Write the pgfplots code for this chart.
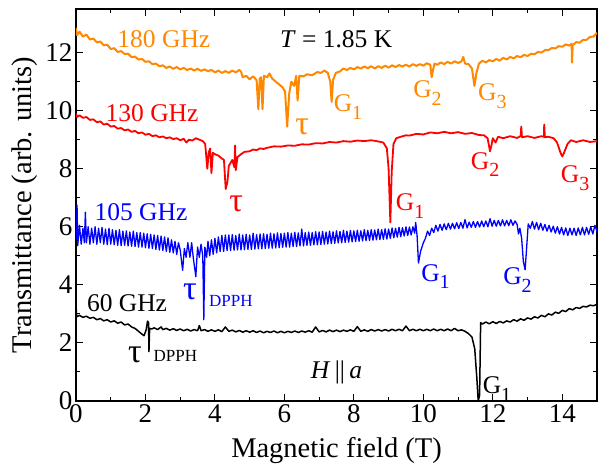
\documentclass[border=0pt]{standalone}
\usepackage{fontspec}
\setmainfont{Liberation Serif}
\usepackage{pgfplots}
\pgfplotsset{compat=1.18}
\definecolor{corange}{RGB}{255,136,0}
\definecolor{cred}{RGB}{255,0,0}
\definecolor{cblue}{RGB}{0,0,255}
\newcommand{\sub}[1]{\raisebox{-0.3em}{\fontsize{20}{20}\selectfont #1}}
\newcommand{\ann}{\fontsize{25.5}{27}\selectfont}
\newcommand{\tauf}{\fontsize{34}{34}\selectfont}
\newcommand{\dpph}{\fontsize{17}{18}\selectfont}
\begin{document}
\begin{tikzpicture}
\begin{axis}[
  scale only axis,
  width=521pt, height=392pt,
  xmin=0, xmax=15, ymin=0, ymax=13.5,
  xtick={0,2,...,14}, ytick={0,2,...,12},
  minor x tick num=1, minor y tick num=1,
  tick align=inside,
  major tick length=7pt, minor tick length=4pt,
  axis line style={line width=1.1pt},
  every tick/.style={line width=1pt, black},
  /pgf/number format/assume math mode=true,
  tick label style={font=\rmfamily\fontsize{27}{29}\selectfont},
  xlabel={Magnetic field (T)},
  ylabel={Transmittance (arb. units)},
  label style={font=\rmfamily\fontsize{28.5}{30}\selectfont},
  xlabel style={at={(axis description cs:0.5,-0.127)}, anchor=center},
  ylabel style={at={(axis description cs:-0.098,0.5)}, anchor=center},
  clip=true,
  every axis plot/.append style={line width=1.6pt, line join=round},
]
% 180 GHz
\addplot[corange, line width=2pt] coordinates {
(0.00,12.85)(0.03,12.60)(0.10,12.72)(0.20,12.55)(0.30,12.62)(0.40,12.45)(0.50,12.48)(0.60,12.35)(0.70,12.38)(0.80,12.25)(0.90,12.27)(1.00,12.12)(1.10,12.15)(1.20,12.02)(1.30,12.05)(1.40,11.95)(1.50,11.96)(1.60,11.84)(1.70,11.86)(1.80,11.76)(1.90,11.78)(2.00,11.68)(2.10,11.70)(2.20,11.60)(2.30,11.62)(2.40,11.53)(2.50,11.56)(2.60,11.47)(2.70,11.52)(2.80,11.44)(2.90,11.50)(3.00,11.42)(3.10,11.47)(3.20,11.40)(3.30,11.45)(3.40,11.38)(3.50,11.44)(3.60,11.37)(3.70,11.42)(3.80,11.36)(3.90,11.40)(4.00,11.32)(4.10,11.38)(4.20,11.30)(4.30,11.36)(4.40,11.30)(4.50,11.38)(4.60,11.32)(4.70,11.40)(4.75,11.35)(4.80,11.15)(4.90,11.20)(5.00,11.08)(5.10,11.18)(5.20,11.05)(5.25,10.05)(5.29,11.10)(5.33,11.15)(5.37,10.05)(5.41,11.20)(5.50,11.15)(5.57,11.28)(5.65,11.10)(5.75,11.00)(5.85,10.90)(5.95,10.80)(6.02,10.65)(6.08,9.45)(6.14,10.60)(6.20,11.00)(6.28,10.85)(6.34,11.20)(6.38,10.35)(6.43,11.20)(6.55,11.18)(6.65,11.25)(6.80,11.22)(6.95,11.33)(7.05,11.30)(7.15,11.38)(7.25,11.30)(7.32,11.00)(7.36,10.30)(7.40,11.05)(7.48,11.30)(7.60,11.35)(7.70,11.45)(7.80,11.40)(7.90,11.47)(8.00,11.42)(8.10,11.50)(8.20,11.45)(8.30,11.52)(8.40,11.46)(8.50,11.53)(8.60,11.45)(8.70,11.53)(8.80,11.47)(8.90,11.55)(9.00,11.48)(9.10,11.56)(9.20,11.50)(9.30,11.57)(9.40,11.52)(9.50,11.58)(9.60,11.52)(9.70,11.60)(9.80,11.54)(9.90,11.60)(10.00,11.55)(10.10,11.63)(10.20,11.58)(10.24,11.15)(10.28,11.40)(10.32,11.62)(10.40,11.58)(10.50,11.66)(10.60,11.60)(10.70,11.68)(10.80,11.62)(10.90,11.70)(11.00,11.64)(11.10,11.70)(11.15,11.85)(11.20,11.62)(11.30,11.60)(11.40,11.45)(11.47,10.85)(11.53,11.30)(11.60,11.62)(11.70,11.72)(11.80,11.66)(11.90,11.74)(12.00,11.70)(12.10,11.78)(12.20,11.72)(12.30,11.82)(12.40,11.76)(12.50,11.85)(12.60,11.80)(12.70,11.88)(12.80,11.84)(12.90,11.92)(13.00,11.88)(13.10,11.96)(13.20,11.94)(13.30,12.02)(13.40,12.00)(13.50,12.08)(13.60,12.08)(13.70,12.16)(13.80,12.14)(13.90,12.22)(14.00,12.20)(14.10,12.28)(14.20,12.24)(14.27,12.30)(14.28,11.65)(14.30,12.25)(14.40,12.36)(14.50,12.34)(14.60,12.44)(14.70,12.44)(14.80,12.54)(14.90,12.55)(15.00,12.68)
};
% 130 GHz
\addplot[cred, line width=1.8pt] coordinates {
(0.00,9.90)(0.03,9.78)(0.10,9.84)(0.20,9.75)(0.30,9.78)(0.40,9.68)(0.50,9.70)(0.60,9.60)(0.70,9.63)(0.80,9.52)(0.90,9.55)(1.00,9.45)(1.10,9.47)(1.20,9.38)(1.30,9.40)(1.40,9.32)(1.50,9.35)(1.60,9.27)(1.70,9.30)(1.80,9.22)(1.90,9.25)(2.00,9.17)(2.10,9.20)(2.20,9.12)(2.30,9.15)(2.40,9.08)(2.50,9.11)(2.60,9.05)(2.70,9.08)(2.80,9.02)(2.90,9.05)(3.00,8.98)(3.10,9.03)(3.18,8.90)(3.25,9.00)(3.35,8.97)(3.45,9.05)(3.55,9.00)(3.65,8.95)(3.72,8.85)(3.78,8.00)(3.82,8.55)(3.86,8.70)(3.90,7.85)(3.94,8.55)(4.00,8.50)(4.10,8.45)(4.20,8.35)(4.26,8.30)(4.31,7.30)(4.36,7.55)(4.40,8.10)(4.45,8.20)(4.50,8.30)(4.56,8.05)(4.58,8.80)(4.60,7.95)(4.65,8.40)(4.75,8.50)(4.85,8.58)(5.00,8.60)(5.10,8.66)(5.20,8.64)(5.30,8.70)(5.40,8.68)(5.50,8.72)(5.70,8.77)(5.90,8.76)(6.10,8.80)(6.30,8.79)(6.50,8.84)(6.70,8.83)(6.90,8.88)(7.10,8.87)(7.30,8.92)(7.50,8.90)(7.70,8.95)(7.90,8.93)(8.10,8.97)(8.30,8.95)(8.50,8.98)(8.70,8.94)(8.85,8.90)(8.95,8.70)(9.00,8.00)(9.05,6.15)(9.09,7.90)(9.14,8.85)(9.22,9.05)(9.35,9.10)(9.50,9.15)(9.60,9.14)(9.80,9.20)(10.00,9.18)(10.20,9.25)(10.40,9.22)(10.60,9.27)(10.80,9.22)(11.00,9.26)(11.20,9.20)(11.40,9.23)(11.60,9.16)(11.75,9.15)(11.85,9.05)(11.92,8.60)(11.96,8.80)(12.00,9.05)(12.08,8.90)(12.15,9.10)(12.30,9.05)(12.50,9.12)(12.70,9.06)(12.80,9.12)(12.82,9.45)(12.84,9.08)(13.00,9.12)(13.20,9.06)(13.40,9.12)(13.47,9.10)(13.48,9.52)(13.50,9.08)(13.60,9.10)(13.75,9.05)(13.85,8.90)(13.95,8.55)(14.00,8.42)(14.05,8.55)(14.15,8.85)(14.25,8.98)(14.40,8.92)(14.60,8.98)(14.80,8.92)(15.00,8.95)
};
% 105 GHz
\addplot[cblue, line width=1.3pt] coordinates {
(0.00,5.55)(0.03,6.75)(0.05,5.35)(0.10,6.05)(0.15,5.40)(0.20,5.95)(0.24,5.45)(0.27,6.50)(0.30,5.45)(0.35,6.00)(0.40,5.40)(0.45,5.95)(0.50,5.45)(0.55,6.00)(0.60,5.40)(0.65,5.95)(0.70,5.45)(0.75,5.98)(0.80,5.40)(0.85,5.92)(0.90,5.38)(0.95,5.95)(1.00,5.40)(1.05,5.90)(1.10,5.38)(1.15,5.88)(1.20,5.36)(1.25,5.90)(1.30,5.35)(1.35,5.85)(1.40,5.36)(1.45,5.86)(1.50,5.34)(1.55,5.82)(1.60,5.33)(1.65,5.85)(1.70,5.32)(1.75,5.80)(1.80,5.30)(1.85,5.80)(1.90,5.30)(1.95,5.78)(2.00,5.28)(2.05,5.76)(2.10,5.26)(2.15,5.74)(2.20,5.25)(2.25,5.72)(2.30,5.22)(2.35,5.70)(2.40,5.20)(2.45,5.68)(2.50,5.18)(2.55,5.65)(2.60,5.15)(2.65,5.62)(2.70,5.12)(2.75,5.55)(2.80,5.10)(2.85,5.50)(2.90,5.05)(2.95,5.45)(3.00,5.20)(3.07,4.50)(3.12,5.25)(3.17,4.95)(3.22,5.45)(3.28,4.95)(3.33,5.45)(3.38,4.90)(3.45,4.28)(3.50,5.30)(3.55,4.95)(3.60,5.40)(3.65,5.00)(3.68,2.80)(3.71,5.30)(3.76,4.95)(3.80,5.50)(3.85,5.00)(3.90,5.55)(3.95,5.05)(4.00,5.60)(4.05,5.10)(4.10,5.65)(4.15,5.15)(4.20,5.70)(4.25,5.15)(4.30,5.72)(4.35,5.18)
(4.40,5.72)(4.45,5.18)(4.50,5.73)(4.55,5.19)(4.60,5.70)(4.65,5.20)(4.70,5.75)(4.75,5.20)(4.80,5.72)(4.85,5.21)(4.90,5.74)(4.95,5.22)(5.00,5.72)(5.05,5.22)(5.10,5.78)(5.15,5.23)(5.20,5.73)(5.25,5.24)(5.30,5.75)(5.35,5.24)(5.40,5.76)(5.45,5.25)(5.50,5.74)(5.55,5.26)(5.60,5.78)(5.65,5.26)(5.70,5.76)(5.75,5.27)(5.80,5.79)(5.85,5.28)(5.90,5.77)(5.95,5.29)(6.00,5.78)(6.05,5.30)(6.10,5.80)(6.15,5.30)(6.20,5.78)(6.25,5.32)(6.30,5.81)(6.35,5.32)(6.40,5.79)(6.45,5.34)(6.50,5.92)(6.55,5.34)(6.60,5.80)(6.65,5.36)(6.70,5.82)(6.75,5.36)(6.80,5.80)(6.85,5.38)(6.90,5.83)(6.95,5.38)(7.00,5.82)(7.05,5.39)(7.10,5.84)(7.15,5.40)(7.20,5.82)(7.25,5.41)(7.30,5.85)(7.35,5.42)(7.40,5.83)(7.45,5.43)(7.50,5.86)(7.55,5.44)(7.60,5.84)(7.65,5.45)(7.70,5.88)(7.75,5.46)(7.80,5.85)(7.85,5.47)(7.90,5.87)(7.95,5.48)(8.00,5.86)(8.05,5.49)(8.10,5.88)(8.15,5.50)(8.20,5.86)(8.25,5.51)(8.30,5.90)(8.35,5.52)(8.40,5.88)(8.45,5.53)(8.50,5.90)(8.55,5.54)(8.60,5.89)(8.65,5.55)(8.70,5.92)(8.75,5.56)(8.80,5.90)(8.85,5.57)(8.90,5.93)(8.95,5.58)(9.00,5.92)(9.05,5.60)(9.10,5.96)(9.15,5.62)(9.20,5.95)(9.25,5.64)(9.30,5.98)(9.35,5.66)(9.40,5.97)(9.45,5.68)(9.50,6.00)(9.55,5.70)(9.60,5.99)(9.65,5.72)(9.70,6.00)(9.75,5.78)(9.78,6.15)(9.82,5.70)(9.86,4.75)(9.92,5.15)(10.00,5.45)(10.06,5.60)(10.12,5.85)(10.18,5.70)(10.24,5.95)(10.30,5.80)(10.36,6.05)(10.42,5.85)(10.48,6.08)(10.54,5.88)(10.60,6.10)(10.66,5.90)(10.72,6.12)(10.78,5.92)(10.84,6.12)(10.90,5.93)(10.96,6.14)(11.02,5.94)(11.08,6.15)(11.14,5.95)(11.20,6.25)(11.26,5.96)(11.32,6.16)(11.38,5.98)(11.44,6.18)(11.50,5.98)(11.56,6.18)(11.62,5.99)(11.68,6.20)(11.74,6.00)(11.80,6.20)(11.86,6.00)(11.92,6.28)(11.98,6.02)(12.04,6.22)(12.10,6.02)(12.16,6.22)(12.22,6.03)(12.28,6.24)(12.34,6.03)(12.40,6.22)(12.46,6.04)(12.52,6.24)(12.58,6.05)(12.64,6.20)(12.70,6.08)(12.74,5.75)(12.78,5.95)(12.83,5.60)(12.88,4.80)(12.93,4.52)(12.97,5.20)(13.02,6.10)(13.08,5.95)(13.14,6.18)(13.20,5.92)(13.26,6.15)(13.32,5.90)(13.38,6.12)(13.44,5.88)(13.50,6.08)(13.56,5.85)(13.62,6.05)(13.68,5.82)(13.74,6.02)(13.80,5.78)(13.86,6.00)(13.92,5.75)(13.98,5.98)(14.04,5.72)(14.10,5.96)(14.16,5.70)(14.22,5.95)(14.28,5.72)(14.34,5.95)(14.40,5.70)(14.46,5.96)(14.52,5.72)(14.58,5.98)(14.64,5.72)(14.70,5.98)(14.76,5.74)(14.82,6.00)(14.88,5.75)(14.94,6.05)(15.00,5.85)
};
% 60 GHz
\addplot[black, line width=1.5pt] coordinates {
(0.00,3.30)(0.02,2.90)(0.10,2.95)(0.20,2.88)(0.30,2.92)(0.40,2.85)(0.50,2.88)(0.60,2.80)(0.70,2.84)(0.80,2.76)(0.90,2.80)(1.00,2.72)(1.10,2.76)(1.20,2.68)(1.30,2.72)(1.40,2.62)(1.50,2.65)(1.60,2.55)(1.70,2.50)(1.80,2.40)(1.90,2.30)(1.96,2.25)(2.02,2.45)(2.06,2.75)(2.09,2.70)(2.10,1.70)(2.12,2.50)(2.18,2.48)(2.25,2.52)(2.35,2.46)(2.45,2.55)(2.50,2.46)(2.60,2.50)(2.70,2.44)(2.80,2.49)(2.90,2.43)(3.00,2.48)(3.10,2.42)(3.20,2.47)(3.30,2.41)(3.40,2.46)(3.50,2.42)(3.55,2.60)(3.60,2.42)(3.70,2.46)(3.80,2.40)(3.90,2.45)(4.00,2.40)(4.10,2.45)(4.20,2.39)(4.30,2.55)(4.40,2.40)(4.50,2.44)(4.60,2.38)(4.70,2.43)(4.80,2.37)(4.90,2.42)(5.00,2.37)(5.10,2.42)(5.20,2.36)(5.30,2.41)(5.40,2.35)(5.50,2.40)(5.60,2.36)(5.70,2.41)(5.80,2.35)(5.90,2.40)(6.00,2.35)(6.10,2.40)(6.20,2.36)(6.30,2.41)(6.40,2.36)(6.50,2.41)(6.60,2.37)(6.70,2.42)(6.80,2.37)(6.90,2.55)(7.00,2.38)(7.10,2.43)(7.20,2.38)(7.30,2.44)(7.40,2.39)(7.50,2.44)(7.60,2.39)(7.70,2.44)(7.80,2.40)(7.90,2.45)(8.00,2.40)(8.10,2.56)(8.20,2.40)(8.30,2.45)(8.40,2.40)(8.50,2.46)(8.60,2.41)(8.70,2.46)(8.80,2.41)(8.90,2.46)(9.00,2.41)(9.10,2.47)(9.20,2.42)(9.30,2.47)(9.40,2.42)(9.50,2.58)(9.60,2.42)(9.70,2.47)(9.80,2.42)(9.90,2.47)(10.00,2.42)(10.10,2.47)(10.20,2.42)(10.30,2.48)(10.40,2.42)(10.50,2.47)(10.60,2.42)(10.70,2.48)(10.80,2.42)(10.90,2.50)(11.00,2.42)(11.10,2.45)(11.20,2.40)(11.30,2.32)(11.40,2.20)(11.48,1.80)(11.54,0.80)(11.58,0.00)(11.62,0.20)(11.65,2.70)(11.70,2.65)(11.80,2.72)(11.90,2.66)(12.00,2.73)(12.10,2.67)(12.20,2.74)(12.30,2.69)(12.40,2.76)(12.50,2.72)(12.60,2.80)(12.70,2.75)(12.80,2.83)(12.90,2.78)(13.00,2.86)(13.10,2.82)(13.20,2.90)(13.30,2.86)(13.40,2.95)(13.50,2.90)(13.60,3.00)(13.70,2.96)(13.80,3.06)(13.90,3.02)(14.00,3.12)(14.10,3.08)(14.20,3.18)(14.30,3.14)(14.40,3.22)(14.50,3.19)(14.60,3.26)(14.70,3.24)(14.80,3.30)(14.90,3.28)(15.00,3.33)
};
% annotations
\node[corange, font=\ann] at (axis cs:2.53,12.45) {180 GHz};
\node[black, font=\ann] at (axis cs:7.49,12.45) {\textit{T} = 1.85 K};
\node[cred, font=\ann] at (axis cs:2.19,9.93) {130 GHz};
\node[cblue, font=\ann] at (axis cs:1.87,6.52) {105 GHz};
\node[black, font=\ann] at (axis cs:1.47,3.38) {60 GHz};
\node[corange, font=\tauf] at (axis cs:6.51,9.45) {τ};
\node[corange, font=\ann] at (axis cs:7.83,10.12) {G\sub{1}};
\node[corange, font=\ann] at (axis cs:10.12,10.60) {G\sub{2}};
\node[corange, font=\ann] at (axis cs:11.99,10.50) {G\sub{3}};
\node[cred, font=\tauf] at (axis cs:4.61,6.80) {τ};
\node[cred, font=\ann] at (axis cs:9.62,6.71) {G\sub{1}};
\node[cred, font=\ann] at (axis cs:11.78,8.14) {G\sub{2}};
\node[cred, font=\ann] at (axis cs:14.37,7.67) {G\sub{3}};
\node[cblue, font=\tauf] at (axis cs:3.28,3.76) {τ};
\node[cblue, font=\dpph] at (axis cs:4.46,3.45) {DPPH};
\node[cblue, font=\ann] at (axis cs:10.35,4.29) {G\sub{1}};
\node[cblue, font=\ann] at (axis cs:12.71,4.16) {G\sub{2}};
\node[black, font=\tauf] at (axis cs:1.70,1.60) {τ};
\node[black, font=\dpph] at (axis cs:2.86,1.55) {DPPH};
\node[black, font=\ann] at (axis cs:7.5,1.0) {\textit{H}\,||\,\textit{a}};
\node[black, font=\ann] at (axis cs:12.12,0.42) {G\sub{1}};
\end{axis}
\path (current axis.south west) ++(-76pt,-63pt) coordinate (BBA);
\path (current axis.north east) ++(1pt,9pt) coordinate (BBB);
\pgfresetboundingbox
\path[use as bounding box] (BBA) rectangle (BBB);
\end{tikzpicture}
\end{document}
